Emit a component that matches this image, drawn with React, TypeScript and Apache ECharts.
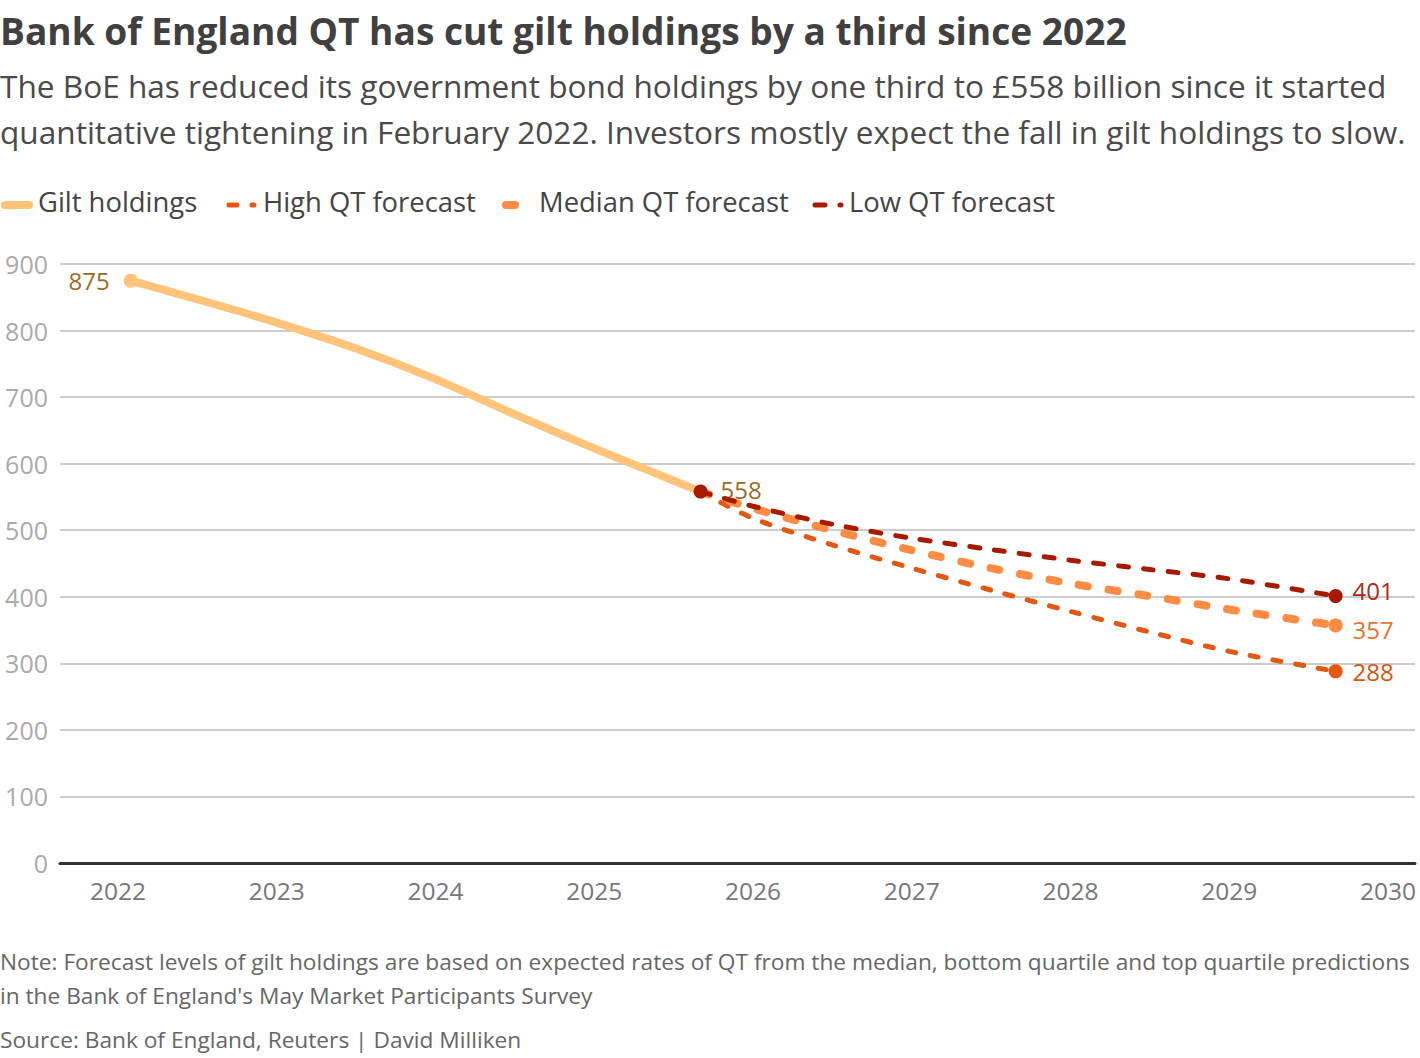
import React, { useEffect, useRef } from "react";
import * as echarts from "echarts";

const yearTicks = [2022, 2023, 2024, 2025, 2026, 2027, 2028, 2029, 2030];
const giltDates = [2022.08, 2022.5, 2023.0, 2023.5, 2024.0, 2024.5, 2025.0, 2025.33, 2025.67];
const giltValues = [875, 847, 812, 773, 727, 674, 623, 591, 558];
const forecastDates = [2025.67, 2026.0, 2026.5, 2027.0, 2027.5, 2028.0, 2028.5, 2029.0, 2029.67];
const highValues = [558, 518, 478, 443, 410, 378, 347, 318, 288];
const medianValues = [558, 533, 500, 470, 443, 420, 401, 381, 357];
const lowValues = [558, 536, 509, 488, 471, 455, 441, 427, 401];

const FONT = "Open Sans";
const C_GILT = "#ffc47a";
const C_HIGH = "#e5560e";
const C_MED = "#ff8c42";
const C_LOW = "#a81a00";

function pts(dates: number[], vals: number[]) {
  return dates.map((d, i) => [d, vals[i]]);
}

export default function App() {
  const ref = useRef<HTMLDivElement>(null);
  useEffect(() => {
    const chart = echarts.init(ref.current!, null, { renderer: "svg" });
    const endLabel = (color: string, dy: number) => ({
      show: true,
      position: "right",
      distance: 10,
      offset: [0, dy],
      color,
      fontSize: 24,
      lineHeight: 24,
      fontFamily: FONT,
    });
    const forecast = (name: string, vals: number[], color: string, labelColor: string, width: number, dash: number[], startMarker: boolean, dy: number) => {
      const data: any[] = pts(forecastDates, vals).map((p, i) => {
        const last = i === vals.length - 1;
        const first = i === 0;
        if (last) {
          return { value: p, symbolSize: 14, label: endLabel(labelColor, dy) };
        }
        if (first && startMarker) {
          return { value: p, symbolSize: 14 };
        }
        return { value: p, symbolSize: 0 };
      });
      return {
        name,
        type: "line",
        data,
        smooth: 0.3,
        symbol: "circle",
        showSymbol: true,
        itemStyle: { color },
        lineStyle: { color, width, type: dash, cap: "round" },
        z: 3,
      };
    };
    const giltData: any[] = pts(giltDates, giltValues).map((p, i) => {
      if (i === 0)
        return {
          value: p,
          symbolSize: 14,
          label: { show: true, position: "left", distance: 14, color: "#9a6a25", fontSize: 24, fontFamily: FONT },
        };
      if (i === giltValues.length - 1)
        return {
          value: p,
          symbolSize: 12,
          label: { show: true, position: "right", distance: 14, offset: [0, -2], color: "#9a6a25", fontSize: 24, fontFamily: FONT },
        };
      return { value: p, symbolSize: 0 };
    });

    const textStyle = (size: number, color: string, weight: any = "normal") => ({
      fontFamily: FONT,
      fontSize: size,
      fill: color,
      fontWeight: weight,
    });

    chart.setOption({
      animation: false,
      grid: { left: 60, right: 5, top: 264, bottom: 195, containLabel: false },
      xAxis: {
        type: "value",
        min: 2021.635,
        max: 2030.17,
        axisLine: { show: true, lineStyle: { color: "#333", width: 3 } },
        axisTick: { show: false },
        splitLine: { show: false },
        axisLabel: {
          customValues: yearTicks,
          formatter: (v: number) => String(Math.round(v)),
          color: "#777",
          fontSize: 24.5,
          fontFamily: FONT,
          margin: 15,
        },
      },
      yAxis: {
        type: "value",
        min: 0,
        max: 900,
        interval: 100,
        axisLine: { show: false },
        axisTick: { show: false },
        splitLine: { lineStyle: { color: "#cccccc", width: 2 } },
        axisLabel: { color: "#aaa", fontSize: 25, fontFamily: FONT, margin: 12 },
      },
      series: [
        {
          name: "Gilt holdings",
          type: "line",
          data: giltData,
          smooth: 0.25,
          symbol: "circle",
          showSymbol: true,
          itemStyle: { color: C_GILT },
          lineStyle: { color: C_GILT, width: 8, cap: "round" },
          z: 2,
        },
        forecast("High QT forecast", highValues, C_HIGH, "#e0520c", 5, [8, 15], false, 0),
        forecast("Median QT forecast", medianValues, C_MED, "#e8722e", 8, [9, 21], false, 4),
        forecast("Low QT forecast", lowValues, C_LOW, "#b02818", 5, [10, 15], true, -6),
      ],
      graphic: [
        { type: "text", left: 0, top: 12, style: { text: "Bank of England QT has cut gilt holdings by a third since 2022", ...textStyle(37.1, "#404040", "bold") } },
        { type: "text", left: 0, top: 69, style: { text: "The BoE has reduced its government bond holdings by one third to £558 billion since it started", ...textStyle(31.6, "#4a4a4a") } },
        { type: "text", left: 0, top: 115, style: { text: "quantitative tightening in February 2022. Investors mostly expect the fall in gilt holdings to slow.", ...textStyle(31.6, "#4a4a4a") } },
        // legend
        { type: "line", shape: { x1: 5, y1: 205, x2: 29, y2: 205 }, style: { stroke: C_GILT, lineWidth: 8, lineCap: "round" } },
        { type: "text", left: 38, top: 188, style: { text: "Gilt holdings", ...textStyle(27.4, "#444") } },
        { type: "line", shape: { x1: 229, y1: 205, x2: 254, y2: 205 }, style: { stroke: C_HIGH, lineWidth: 5, lineCap: "round", lineDash: [8, 15] } },
        { type: "text", left: 263, top: 188, style: { text: "High QT forecast", ...textStyle(27.4, "#444") } },
        { type: "line", shape: { x1: 506, y1: 205, x2: 515, y2: 205 }, style: { stroke: C_MED, lineWidth: 8, lineCap: "round" } },
        { type: "text", left: 539, top: 188, style: { text: "Median QT forecast", ...textStyle(27.4, "#444") } },
        { type: "line", shape: { x1: 815, y1: 205, x2: 841, y2: 205 }, style: { stroke: C_LOW, lineWidth: 5, lineCap: "round", lineDash: [10, 15] } },
        { type: "text", left: 849, top: 188, style: { text: "Low QT forecast", ...textStyle(27.4, "#444") } },
        // notes
        { type: "text", left: 0, top: 950, style: { text: "Note: Forecast levels of gilt holdings are based on expected rates of QT from the median, bottom quartile and top quartile predictions", ...textStyle(22.7, "#666") } },
        { type: "text", left: 0, top: 984, style: { text: "in the Bank of England's May Market Participants Survey", ...textStyle(22.7, "#666") } },
        { type: "text", left: 0, top: 1028, style: { text: "Source: Bank of England, Reuters | David Milliken", ...textStyle(22.7, "#666") } },
      ],
    });
    return () => chart.dispose();
  }, []);
  return (
    <div
      ref={ref}
      style={{ position: "absolute", left: 0, top: 0, width: 1420, height: 1058, background: "#fff" }}
    />
  );
}
